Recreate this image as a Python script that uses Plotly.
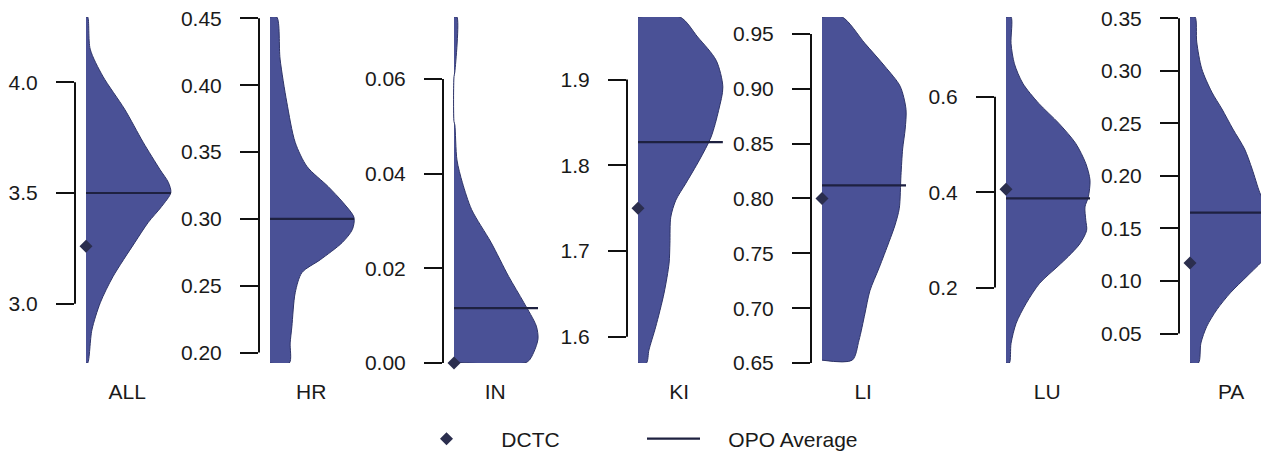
import plotly.graph_objects as go

# ---------------- data ----------------
categories = ["ALL", "HR", "IN", "KI", "LI", "LU", "PA"]

# density profiles: value grid and relative density width (1 = widest violin)
all_vals = [4.294, 4.149, 4.027, 3.878, 3.729, 3.606, 3.548, 3.502, 3.439, 3.367, 3.276, 3.122, 3.005, 2.882, 2.733]
all_dens = [0.02, 0.05, 0.20, 0.46, 0.68, 0.88, 0.98, 1.01, 0.90, 0.74, 0.58, 0.32, 0.17, 0.07, 0.02]

hr_vals = [0.451, 0.4195, 0.3872, 0.3572, 0.3392, 0.3243, 0.3122, 0.301, 0.292, 0.2823, 0.2695, 0.2598, 0.2448, 0.2192, 0.2072, 0.1922]
hr_dens = [0.08, 0.12, 0.20, 0.30, 0.44, 0.69, 0.87, 1.00, 0.98, 0.86, 0.60, 0.38, 0.30, 0.26, 0.24, 0.23]

in_vals = [0.0731, 0.0615, 0.0605, 0.0510, 0.0503, 0.0429, 0.0381, 0.0324, 0.0255, 0.0183, 0.0128, 0.0078, 0.0051, 0.0023, 0.0002]
in_dens = [0.035, 0.01, 0.0, 0.0, 0.01, 0.035, 0.10, 0.21, 0.44, 0.65, 0.83, 0.98, 1.00, 0.95, 0.87]

ki_vals = [1.973, 1.9497, 1.9225, 1.8914, 1.8642, 1.8331, 1.806, 1.7791, 1.7593, 1.7395, 1.7092, 1.6859, 1.6509, 1.6113, 1.5845, 1.5694]
ki_dens = [0.50, 0.71, 0.93, 1.01, 0.96, 0.87, 0.73, 0.57, 0.45, 0.39, 0.38, 0.37, 0.31, 0.21, 0.13, 0.10]

li_vals = [0.9654, 0.9414, 0.9203, 0.9023, 0.8812, 0.8632, 0.8451, 0.821, 0.791, 0.7759, 0.7609, 0.7368, 0.7158, 0.6947, 0.6707, 0.6526]
li_dens = [0.24, 0.51, 0.75, 0.93, 1.00, 0.99, 0.96, 0.94, 0.92, 0.87, 0.80, 0.68, 0.57, 0.51, 0.44, 0.36]

lu_vals = [0.767, 0.711, 0.669, 0.628, 0.586, 0.544, 0.502, 0.460, 0.425, 0.390, 0.369, 0.341, 0.320, 0.292, 0.265, 0.245, 0.209, 0.167, 0.125, 0.083, 0.042]
lu_dens = [0.06, 0.06, 0.10, 0.20, 0.39, 0.63, 0.83, 0.95, 1.00, 0.98, 0.94, 0.95, 0.96, 0.88, 0.74, 0.62, 0.40, 0.24, 0.12, 0.06, 0.04]

pa_vals = [0.3511, 0.3273, 0.3018, 0.2796, 0.2636, 0.2446, 0.2255, 0.2064, 0.1842, 0.1682, 0.154, 0.140, 0.128, 0.1205, 0.1046, 0.0887, 0.0728, 0.0569, 0.041, 0.022]
pa_dens = [0.06, 0.08, 0.14, 0.26, 0.38, 0.51, 0.65, 0.74, 0.83, 0.92, 0.98, 1.00, 0.95, 0.88, 0.68, 0.48, 0.32, 0.20, 0.13, 0.10]

opo_average = [3.50, 0.300, 0.0116, 1.827, 0.812, 0.387, 0.165]
dctc = [3.26, 0.191, 0.000, 1.750, 0.800, 0.406, 0.117]

tick_values = [
    [3.0, 3.5, 4.0],
    [0.20, 0.25, 0.30, 0.35, 0.40, 0.45],
    [0.00, 0.02, 0.04, 0.06],
    [1.6, 1.7, 1.8, 1.9],
    [0.65, 0.70, 0.75, 0.80, 0.85, 0.90, 0.95],
    [0.2, 0.4, 0.6],
    [0.05, 0.10, 0.15, 0.20, 0.25, 0.30, 0.35],
]
tick_formats = [".1f", ".2f", ".2f", ".1f", ".2f", ".1f", ".2f"]

profiles = [
    (all_vals, all_dens), (hr_vals, hr_dens), (in_vals, in_dens), (ki_vals, ki_dens),
    (li_vals, li_dens), (lu_vals, lu_dens), (pa_vals, pa_dens),
]

# ---------------- styling / layout ----------------
PAGE_W, PAGE_H = 1269, 452
OFF = 8                              # default body margin of the html page
W, H = PAGE_W - OFF, PAGE_H - OFF    # figure size so it ends at the window edge
FONT = "Liberation Sans, Arial, Helvetica, sans-serif"
FS = 21
TXT = "#1a1a1a"
VIOLIN_FILL = "#4a5196"
VIOLIN_EDGE = "#2e3468"
MARK = "#2b2e4e"
NBSP = "\u00a0"

unit_px = 84.0          # pixels per unit of relative density
first_axis_px = 75.0    # bracket position of first panel (page pixels)
panel_step_px = 184.0
axis_gap_px = 11.0      # gap between bracket and violin baseline
panel_w_px = 150.0
label_offset = 0.49     # category label position in density units
plot_top_px, plot_bot_px = 17.0, 363.0   # page pixels

fig = go.Figure()
layout = dict(
    width=W, height=H, margin=dict(l=0, r=0, t=0, b=0, autoexpand=False),
    paper_bgcolor="white", plot_bgcolor="white",
    font=dict(family=FONT, size=FS, color=TXT),
    showlegend=True,
    legend=dict(orientation="h", x=(415 - OFF) / W, xanchor="left",
                y=(PAGE_H - 439) / H, yanchor="middle",
                entrywidth=159, entrywidthmode="pixels", itemwidth=53,
                font=dict(family=FONT, size=21, color=TXT), bgcolor="rgba(0,0,0,0)"),
)
shapes = []
ydom = [(PAGE_H - plot_bot_px) / H, (PAGE_H - plot_top_px) / H]

for i, cat in enumerate(categories):
    vals, dens = profiles[i]
    n = "" if i == 0 else str(i + 1)
    xa, ya = "x" + n, "y" + n
    left_px = first_axis_px + panel_step_px * i - OFF
    right_px = min(left_px + panel_w_px, W)
    base_px = left_px + axis_gap_px
    xr = [(left_px - base_px) / unit_px, (right_px - base_px) / unit_px]

    # half violin
    fig.add_trace(go.Scatter(
        x=[0] + list(dens) + [0], y=[vals[0]] + list(vals) + [vals[-1]],
        mode="lines", fill="toself", fillcolor=VIOLIN_FILL,
        line=dict(color=VIOLIN_EDGE, width=1, shape="spline", smoothing=0.8),
        xaxis=xa, yaxis=ya, showlegend=False, hoverinfo="skip"))
    # OPO average line
    fig.add_trace(go.Scatter(
        x=[0, max(dens)], y=[opo_average[i]] * 2, mode="lines",
        line=dict(color="#1e2140", width=2.2), name=NBSP * 4 + "OPO Average",
        xaxis=xa, yaxis=ya, showlegend=(i == 0), legendrank=2))
    # DCTC diamond
    fig.add_trace(go.Scatter(
        x=[0], y=[dctc[i]], mode="markers", cliponaxis=False,
        marker=dict(symbol="diamond", size=10, color=MARK, line=dict(width=0)),
        name=NBSP * 4 + "DCTC", xaxis=xa, yaxis=ya, showlegend=(i == 0), legendrank=1))

    all_y = list(vals) + list(tick_values[i])
    layout["xaxis" + n] = dict(
        domain=[left_px / W, right_px / W], range=xr, anchor=ya, automargin=False,
        showgrid=False, zeroline=False, showline=False, ticks="",
        tickvals=[label_offset], ticktext=[cat], ticklabelstandoff=14,
        ticklabeloverflow="allow",
        tickfont=dict(family=FONT, size=FS, color=TXT), fixedrange=True)
    layout["yaxis" + n] = dict(
        domain=ydom, range=[min(all_y), max(all_y)], anchor=xa, automargin=False,
        showgrid=False, zeroline=False, showline=False,
        ticks="outside", ticklen=18, tickwidth=2, tickcolor="#111111",
        tickvals=tick_values[i], tickformat=tick_formats[i], ticklabelstandoff=14,
        ticklabeloverflow="allow",
        tickfont=dict(family=FONT, size=FS, color=TXT), fixedrange=True)
    # bracket-style axis line between first and last tick
    shapes.append(dict(type="line", xref=xa + " domain", yref=ya, x0=0, x1=0,
                       y0=min(tick_values[i]), y1=max(tick_values[i]),
                       line=dict(color="#111111", width=2)))

layout["shapes"] = shapes
fig.update_layout(**layout)
fig.write_html("out.html")
